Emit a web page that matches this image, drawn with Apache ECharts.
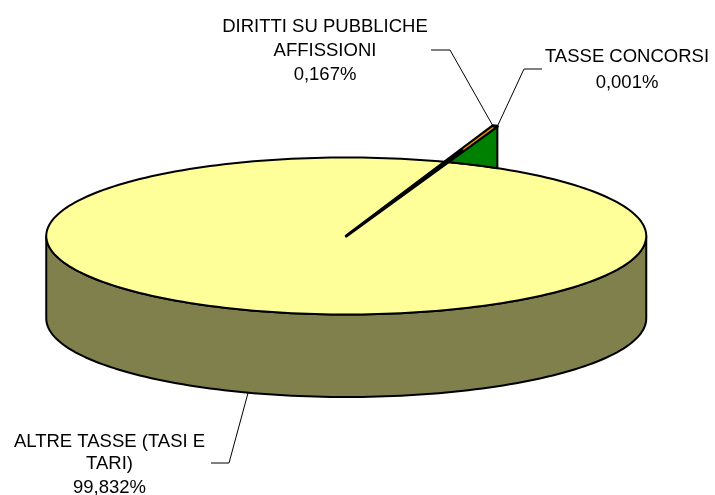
<!DOCTYPE html>
<html><head><meta charset="utf-8">
<style>html,body{margin:0;padding:0;background:#fff}#c{width:715px;height:495px}</style>
<script src="https://cdn.jsdelivr.net/npm/echarts@6/dist/echarts.min.js"></script>
</head><body><div id="c"></div>
<script>
var categories = ['ALTRE TASSE (TASI E TARI)', 'DIRITTI SU PUBBLICHE AFFISSIONI', 'TASSE CONCORSI'];
var labelLines = [['ALTRE TASSE (TASI E', 'TARI)'], ['DIRITTI SU PUBBLICHE', 'AFFISSIONI'], ['TASSE CONCORSI']];
var shares = [99.832, 0.167, 0.001];
var shareText = ['99,832%', '0,167%', '0,001%'];
var colors = ['#FFFF99', '#FF9900', '#008000'];
var sideColor = '#80804D';

var START_DEG = 70.2;   // math angle where the thin slices begin, going anticlockwise
var TIP = 1.487;        // radial reach of the raised thin slices, in radii
var DEPTH = 82.5;       // pixels of wall height

function renderAll(params, api) {
  var total = shares[0] + shares[1] + shares[2];
  var P = function (r, deg) { var a = deg * Math.PI / 180; return api.coord([r * Math.cos(a), r * Math.sin(a)]); };
  var arc = function (r, d0, d1, n) { var o = []; for (var i = 0; i <= n; i++) o.push(P(r, d0 + (d1 - d0) * i / n)); return o; };
  var ch = [];
  var stroke = { stroke: '#000', lineWidth: 2, lineJoin: 'round' };
  var front = arc(1, 180, 360, 120);
  var wall = front.concat(front.slice().reverse().map(function (p) { return [p[0], p[1] + DEPTH]; }));
  ch.push({ type: 'polygon', shape: { points: wall }, style: Object.assign({ fill: sideColor }, stroke) });
  ch.push({ type: 'polygon', shape: { points: arc(1, 0, 360, 240) }, style: Object.assign({ fill: colors[0] }, stroke) });
  var a0 = START_DEG;
  var a1 = a0 + shares[1] / total * 360;
  var tip = P(TIP, a0);
  var dx = (tip[0] - api.coord([0, 0])[0]) / (api.coord([1, 0])[0] - api.coord([0, 0])[0]);
  var footDeg = Math.acos(dx) * 180 / Math.PI;
  var rim = arc(1, footDeg, a1, 30);
  ch.push({ type: 'polygon', shape: { points: [tip].concat(rim) }, style: Object.assign({ fill: colors[2] }, stroke) });
  ch.push({ type: 'polygon', shape: { points: [P(0, 0), P(TIP, a0), P(TIP, a1)] }, style: { fill: '#000', stroke: '#000', lineWidth: 3, lineJoin: 'round' } });
  var inner = [P(1.17, a0 + 0.2), P(TIP * 0.985, a0 + 0.2), P(TIP * 0.985, a1 - 0.2), P(1.17, a1 - 0.2)];
  ch.push({ type: 'polygon', shape: { points: inner }, style: { fill: colors[1], stroke: colors[1], lineWidth: 0.4 } });
  var line = function (pts) { ch.push({ type: 'polyline', shape: { points: pts }, style: { stroke: '#000', lineWidth: 1, fill: 'none' } }); };
  line([[493, 126], [450, 50], [431, 50]]);
  line([[498, 125], [524, 69], [542, 69]]);
  line([[248, 393], [229, 463], [211, 463]]);
  var text = function (x, y, s) { ch.push({ type: 'text', style: { x: x, y: y, text: s, fontFamily: '"Liberation Sans", Arial, sans-serif', fontSize: 18.5, fill: '#000', align: 'center', verticalAlign: 'middle' } }); };
  text(325, 27, labelLines[1][0]); text(325, 51, labelLines[1][1]); text(325, 75, shareText[1]);
  text(627, 57, labelLines[2][0]); text(627, 83, shareText[2]);
  text(109.5, 442, labelLines[0][0]); text(109.5, 464, labelLines[0][1]); text(109.5, 488, shareText[0]);
  return { type: 'group', children: ch };
}

var chart = echarts.init(document.getElementById('c'), null, { renderer: 'canvas' });
chart.setOption({
  animation: false,
  backgroundColor: '#fff',
  grid: { left: 46.25, width: 600, top: 157.5, height: 157 },
  xAxis: { type: 'value', min: -1, max: 1, show: false },
  yAxis: { type: 'value', min: -1, max: 1, show: false },
  series: [{ type: 'custom', coordinateSystem: 'cartesian2d', clip: false, silent: true, data: [[0, 0]], renderItem: renderAll }]
});
</script></body></html>
